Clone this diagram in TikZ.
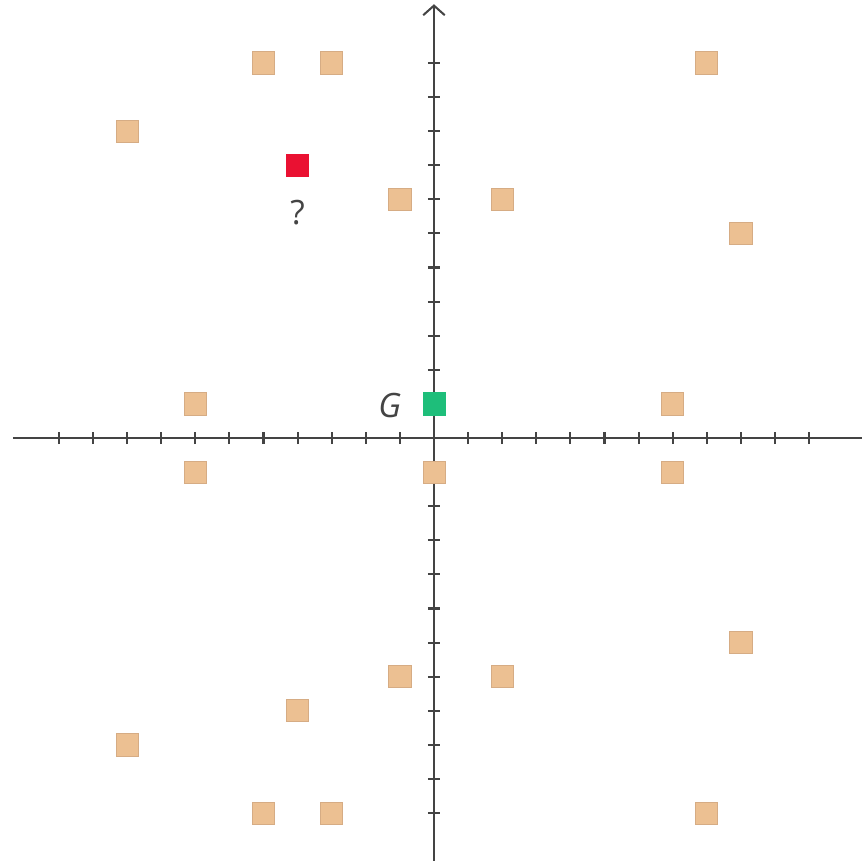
\documentclass[tikz,border=0pt]{standalone}
\usepackage{fontspec}
\setmainfont{Open Sans}
\usetikzlibrary{arrows.meta}
\definecolor{tan}{RGB}{236,192,146}
\definecolor{tanline}{RGB}{214,172,132}
\definecolor{redsq}{RGB}{234,17,50}
\definecolor{greensq}{RGB}{30,190,122}
\definecolor{axis}{RGB}{68,68,68}
\tikzset{
  sq/.style={draw=tanline, line width=0.3pt, fill=tan, minimum size=0.324cm, inner sep=0pt, outer sep=0pt},
  axisline/.style={draw=axis, line width=0.85pt},
  lbl/.style={text=axis, font=\fontsize{14}{16}\selectfont}
}
\begin{document}
\begin{tikzpicture}[x=0.5cm,y=0.5cm]
\useasboundingbox (-12.727,-12.434) rectangle (12.551,12.845);
% axes
\coordinate (xl) at (-12.35,0);
\coordinate (xr) at (12.6,0);
\coordinate (yb) at (0,-12.4);
\coordinate (yt) at (0,12.72);
\draw[axisline] (xl) -- (xr);
\draw[axisline, -{Straight Barb[length=4pt,width=9pt]}] (yb) -- (yt);
\foreach \i in {-11,...,-1,1,2,...,11} {
  \draw[axisline] (\i,-0.18) -- (\i,0.18);
  \draw[axisline] (-0.18,\i) -- (0.18,\i);
}
% squares
\foreach \x/\y/\n in {-5/11/a1,-3/11/a2,8/11/a3,-9/9/a4,-1/7/a5,2/7/a6,9/6/a7,-7/1/a8,7/1/a9,-7/-1/a10,0/-1/a11,7/-1/a12,9/-6/a13,-1/-7/a14,2/-7/a15,-4/-8/a16,-9/-9/a17,-5/-11/a18,-3/-11/a19,8/-11/a20} {
  \node[sq] (\n) at (\x,\y) {};
}
\node[sq, fill=redsq, draw=redsq] (red) at (-4,8) {};
\node[sq, fill=greensq, draw=greensq] (green) at (0,1) {};
\node[lbl] (q) at (-4,6.6) {?};
\node[lbl] (g) at (-1.3,0.95) {\itshape G};
\end{tikzpicture}
\end{document}
